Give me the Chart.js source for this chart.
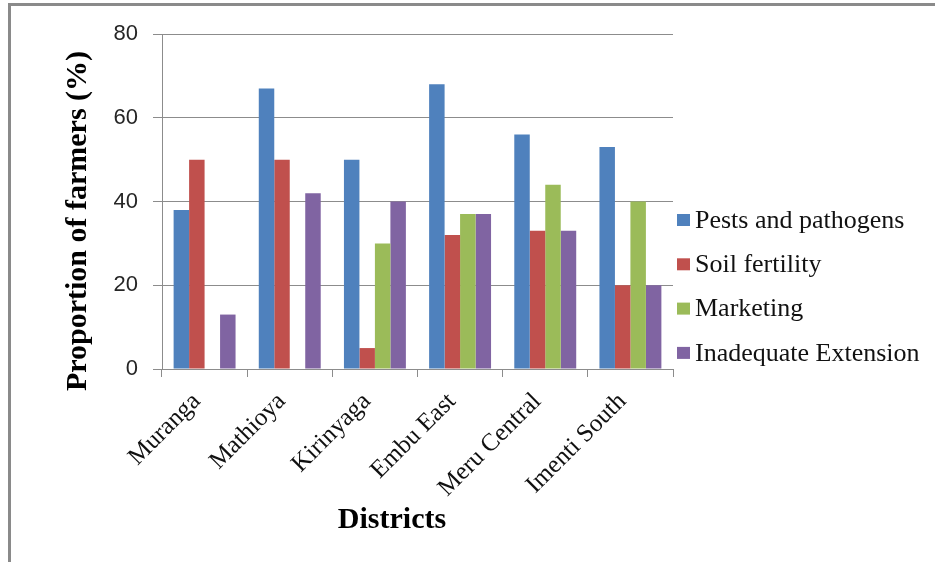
<!DOCTYPE html>
<html>
<head>
<meta charset="utf-8">
<title>Constraints by district</title>
<script src="https://cdn.jsdelivr.net/npm/chart.js@4/dist/chart.umd.min.js"></script>
<style>
  html, body { margin: 0; padding: 0; background: #fff; }
  #wrap { position: relative; width: 935px; height: 562px; overflow: hidden; }
  #wrap canvas { position: absolute; left: 0; top: 0; }
  #frame {
    position: absolute; left: 8px; top: 3px; right: -4px; bottom: -4px;
    border-top: 3px solid #8a8a8a; border-left: 3px solid #8a8a8a;
    pointer-events: none;
  }
</style>
</head>
<body>
<div id="wrap">
  <canvas id="chart" width="935" height="562"></canvas>
  <div id="frame"></div>
</div>
<script>
  // districts surveyed
  const districts = ['Muranga', 'Mathioya', 'Kirinyaga', 'Embu East', 'Meru Central', 'Imenti South'];

  // share of farmers naming each constraint (%)
  const pests     = [38, 67, 50, 68, 56, 53];
  const soil      = [50, 50, 5, 32, 33, 20];
  const marketing = [0, 0, 30, 37, 44, 40];
  const extension = [13, 42, 40, 37, 33, 20];

  const seriesNames = ['Pests and pathogens', 'Soil fertility', 'Marketing', 'Inadequate Extension'];
  const seriesColors = ['#4f81bd', '#c0504d', '#9bbb59', '#8064a2'];

  const yTicks = [0, 20, 40, 60, 80];

  const axisGrey = '#8c8c8c';
  const sans = '"Liberation Sans", Arial, sans-serif';
  const serif = '"Liberation Serif", "Times New Roman", serif';

  // axis titles, placed like the office-style chart
  const axisTitles = {
    id: 'axisTitles',
    afterDraw(chart) {
      const ctx = chart.ctx;
      const area = chart.chartArea;
      ctx.save();
      ctx.fillStyle = '#000';
      ctx.font = 'bold 30px ' + serif;
      ctx.textAlign = 'center';
      ctx.textBaseline = 'middle';
      ctx.fillText('Districts', area.left + 230, 520);
      ctx.translate(78, area.top + 187);
      ctx.rotate(-Math.PI / 2);
      ctx.fillText('Proportion of farmers (%)', 0, 0);
      ctx.restore();
    }
  };

  // legend column to the right of the plot
  const sideLegend = {
    id: 'sideLegend',
    afterDraw(chart) {
      const ctx = chart.ctx;
      const area = chart.chartArea;
      const x = area.right + 4;
      let y = 220;
      ctx.save();
      ctx.font = '26px ' + serif;
      ctx.textBaseline = 'middle';
      chart.data.datasets.forEach(ds => {
        ctx.fillStyle = ds.backgroundColor;
        ctx.fillRect(x, y - 6, 13, 12);
        ctx.fillStyle = '#111';
        ctx.fillText(ds.label, x + 18, y + 1);
        y += 44.3;
      });
      ctx.restore();
    }
  };

  const values = [pests, soil, marketing, extension];

  new Chart(document.getElementById('chart'), {
    type: 'bar',
    data: {
      labels: districts,
      datasets: values.map((v, i) => ({
        label: seriesNames[i],
        data: v,
        backgroundColor: seriesColors[i],
        borderWidth: 0,
        categoryPercentage: 4 / 5.5,
        barPercentage: 1
      }))
    },
    options: {
      responsive: false,
      animation: false,
      devicePixelRatio: 1,
      layout: { padding: { top: 34, right: 262, bottom: 0, left: 0 } },
      plugins: {
        legend: { display: false },
        tooltip: { enabled: false }
      },
      scales: {
        x: {
          afterFit(s) { s.height = 193; },
          grid: {
            offset: true,
            drawOnChartArea: false,
            tickLength: 8,
            color: axisGrey
          },
          border: { color: axisGrey, width: 1 },
          ticks: {
            autoSkip: false,
            minRotation: 45,
            maxRotation: 45,
            padding: 10,
            labelOffset: -8,
            color: '#111',
            font: { family: serif, size: 25 }
          }
        },
        y: {
          min: 0,
          max: 80,
          afterFit(s) { s.width = 162; },
          afterBuildTicks(s) { s.ticks = yTicks.map(v => ({ value: v })); },
          grid: { color: axisGrey, tickLength: 9 },
          border: { color: axisGrey, width: 1 },
          ticks: {
            padding: 15,
            color: '#262626',
            font: { family: sans, size: 22 }
          }
        }
      }
    },
    plugins: [axisTitles, sideLegend]
  });
</script>
</body>
</html>
